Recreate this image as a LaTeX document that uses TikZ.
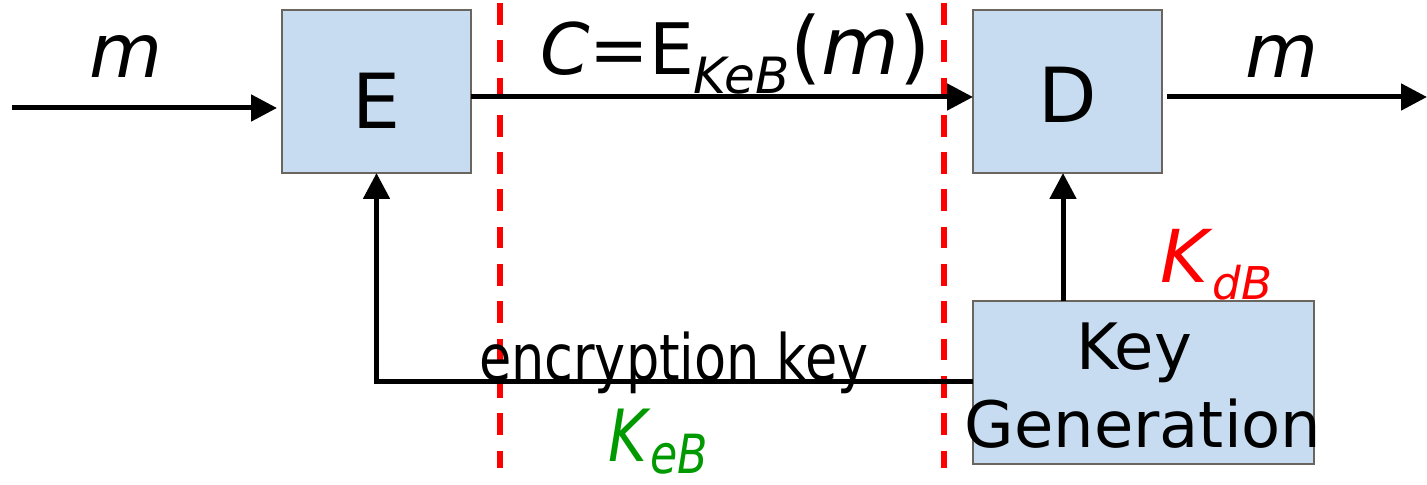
\documentclass[tikz,border=0pt]{standalone}
\usepackage{fontspec}
\setmainfont{DejaVu Sans}
\usetikzlibrary{arrows.meta}
\definecolor{boxfill}{HTML}{C7DCF0}
\definecolor{boxline}{HTML}{6B6560}
\definecolor{kgreen}{HTML}{009900}
\begin{document}
\begin{tikzpicture}[x=0.5pt,y=-0.5pt,
  box/.style={draw=boxline,fill=boxfill,line width=0.8pt,inner sep=0pt,outer sep=0pt,anchor=north west},
  conn/.style={line width=2.5pt,-{Triangle[length=13pt,width=13pt]}},
  sep/.style={red,line width=2.6pt,dash pattern=on 10.85pt off 7.8pt},
  txt/.style={inner sep=0pt,outer sep=0pt,anchor=base},
  big/.style={font=\fontsize{38}{40}\selectfont},
  mid/.style={font=\fontsize{32}{34}\selectfont}]
\useasboundingbox (0,0) rectangle (1427,485);
% boxes
\node[box,minimum width=94.5pt,minimum height=81.5pt] (E) at (282,10) {};
\node[box,minimum width=94.5pt,minimum height=81.5pt] (D) at (973,10) {};
\node[box,minimum width=170.5pt,minimum height=81.5pt] (KG) at (973,301) {};
% separators
\coordinate (s1t) at (500,3);
\coordinate (s1b) at (500,468);
\coordinate (s2t) at (944,3);
\coordinate (s2b) at (944,468);
\draw[sep] (s1t) -- (s1b);
\draw[sep] (s2t) -- (s2b);
% connectors
\coordinate (in) at (12,108);
\coordinate (top) at (0,97);
\coordinate (out) at (1427,97);
\coordinate (kd) at (1063,0);
\coordinate (ky) at (0,382);
\draw[conn,shorten >=2.5pt] (in) -- (in -| E.west);
\draw[conn] (E.east |- top) -- (D.west |- top);
\draw[conn,shorten <=2.5pt] (D.east |- out) -- (out);
\draw[conn] (KG.north -| kd) -- (D.south -| kd);
\draw[conn] (KG.west |- ky) -| (E.south);
% texts
\node[txt,big] (Et) at (377,129) {E};
\node[txt,big] (Dt) at (1068,122.7) {D};
\node[txt,font=\fontsize{37.5}{40}\selectfont\itshape] (m1) at (126,78) {m};
\node[txt,font=\fontsize{37.5}{40}\selectfont\itshape] (m2) at (1282,78) {m};
\node[txt,anchor=base west,font=\fontsize{35.5}{38}\selectfont] (ct) at (540,75)
  {\textit{C}=E\raisebox{-9.5pt}{\fontsize{25}{27}\selectfont\textit{KeB}}{\fontsize{40}{42}\selectfont(\textit{m})}};
\node[txt,anchor=base west,red,font=\fontsize{36.5}{38}\selectfont] (kdb) at (1160,283)
  {\textit{K}\raisebox{-8.5pt}{\fontsize{22.6}{24}\selectfont\textit{dB}}};
\node[txt,anchor=base west,text=kgreen,font=\fontsize{36}{38}\selectfont] (keb) at (608,461)
  {\scalebox{0.82}[1]{\textit{K}\raisebox{-6pt}{\fontsize{27}{29}\selectfont\textit{eB}}}};
\node[txt,anchor=base west,mid] (enc) at (479,380) {\scalebox{0.82}[1]{encryption key}};
\node[txt,mid] (key) at (1134,370) {Key};
\node[txt,mid] (gen) at (1143,447) {Generation};
\end{tikzpicture}
\end{document}
